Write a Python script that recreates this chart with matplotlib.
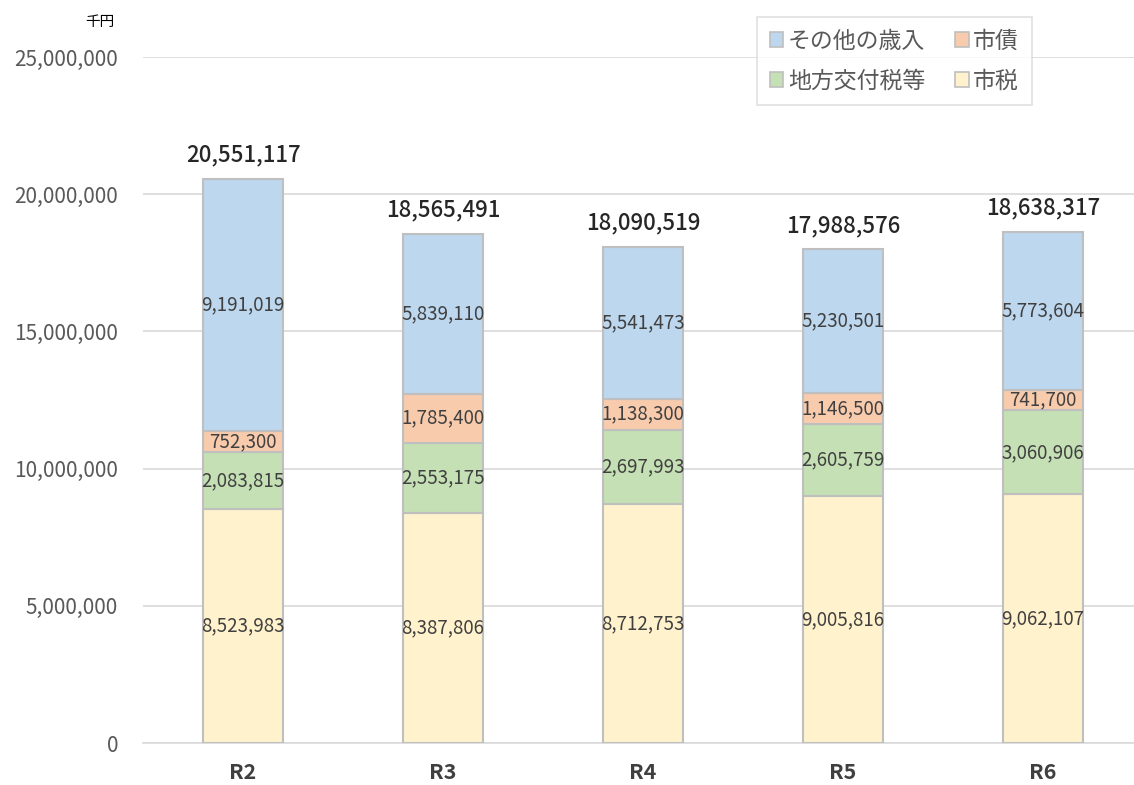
import matplotlib
matplotlib.use("Agg")
import matplotlib.pyplot as plt
import matplotlib.patches as mpatches
import numpy as np

plt.rcParams["font.family"] = ["Noto Sans CJK JP", "DejaVu Sans"]

years = ["R2", "R3", "R4", "R5", "R6"]
shizei = [8523983, 8387806, 8712753, 9005816, 9062107]
chiho_kofuzei = [2083815, 2553175, 2697993, 2605759, 3060906]
shisai = [752300, 1785400, 1138300, 1146500, 741700]
sonota = [9191019, 5839110, 5541473, 5230501, 5773604]

series_names = ["市税", "地方交付税等", "市債", "その他の歳入"]
series_vals = [shizei, chiho_kofuzei, shisai, sonota]
COLORS = ["#FFF2CC", "#C5E0B4", "#F8CBAD", "#BDD7EE"]
EDGE = "#BFBFBF"

W, H = 1134, 785
fig = plt.figure(figsize=(W / 100, H / 100), dpi=100)
ax = fig.add_axes([143 / W, 42 / H, 1000 / W, 686 / H])

x = np.arange(len(years))
bottom = np.zeros(len(years))
for name, vals, col in zip(series_names, series_vals, COLORS):
    vals = np.array(vals, dtype=float)
    ax.bar(x, vals, 0.4, bottom=bottom, color=col, edgecolor=EDGE,
           linewidth=1.5, zorder=3)
    for xi, b, v in zip(x, bottom, vals):
        ax.text(xi, b + v / 2, f"{int(v):,}", ha="center", va="center",
                fontsize=13.5, color="#404040", zorder=4)
    bottom += vals

for xi, tot in zip(x, bottom):
    ax.annotate(f"{int(tot):,}", (xi, tot), xytext=(0, 9),
                textcoords="offset points", ha="center", va="bottom",
                fontsize=16, color="#262626", fontweight="medium")

ax.set_xlim(-0.5, 4.5)
ax.set_ylim(0, 25000000)
ax.set_yticks(np.arange(0, 25000001, 5000000))
ax.yaxis.set_major_formatter(matplotlib.ticker.FuncFormatter(lambda v, p: f"{int(v):,}"))
ax.set_xticks(x)
ax.set_xticklabels(years, fontsize=15.5, color="#404040", fontweight="bold")
ax.tick_params(axis="y", labelsize=15, colors="#595959", length=0, pad=18)
ax.tick_params(axis="x", length=0, pad=14)
ax.grid(axis="y", color="#D9D9D9", linewidth=1.2, zorder=0)
for s in ["top", "right", "left"]:
    ax.spines[s].set_visible(False)
ax.spines["bottom"].set_color("#D9D9D9")
ax.spines["bottom"].set_linewidth(1.2)

fig.text(100 / W, 1 - 22 / H, "千円", ha="center", va="center", fontsize=10.5,
         color="#000000")

order = ["その他の歳入", "地方交付税等", "市債", "市税"]
leg_handles = [mpatches.Patch(facecolor=COLORS[series_names.index(n)],
                              edgecolor=EDGE, linewidth=1.2, label=n)
               for n in order]
leg = fig.legend(handles=leg_handles, loc="upper left",
                 bbox_to_anchor=(757 / W, 1 - 17 / H), ncol=2, fontsize=16.5,
                 frameon=True, fancybox=False, handlelength=0.6,
                 handleheight=0.6, handletextpad=0.2, columnspacing=1.3,
                 labelspacing=0.75, borderpad=0.55, borderaxespad=0,
                 labelcolor="#595959")
leg.get_frame().set_edgecolor("#D9D9D9")
leg.get_frame().set_linewidth(1.2)

fig.savefig("out.png", dpi=100)
